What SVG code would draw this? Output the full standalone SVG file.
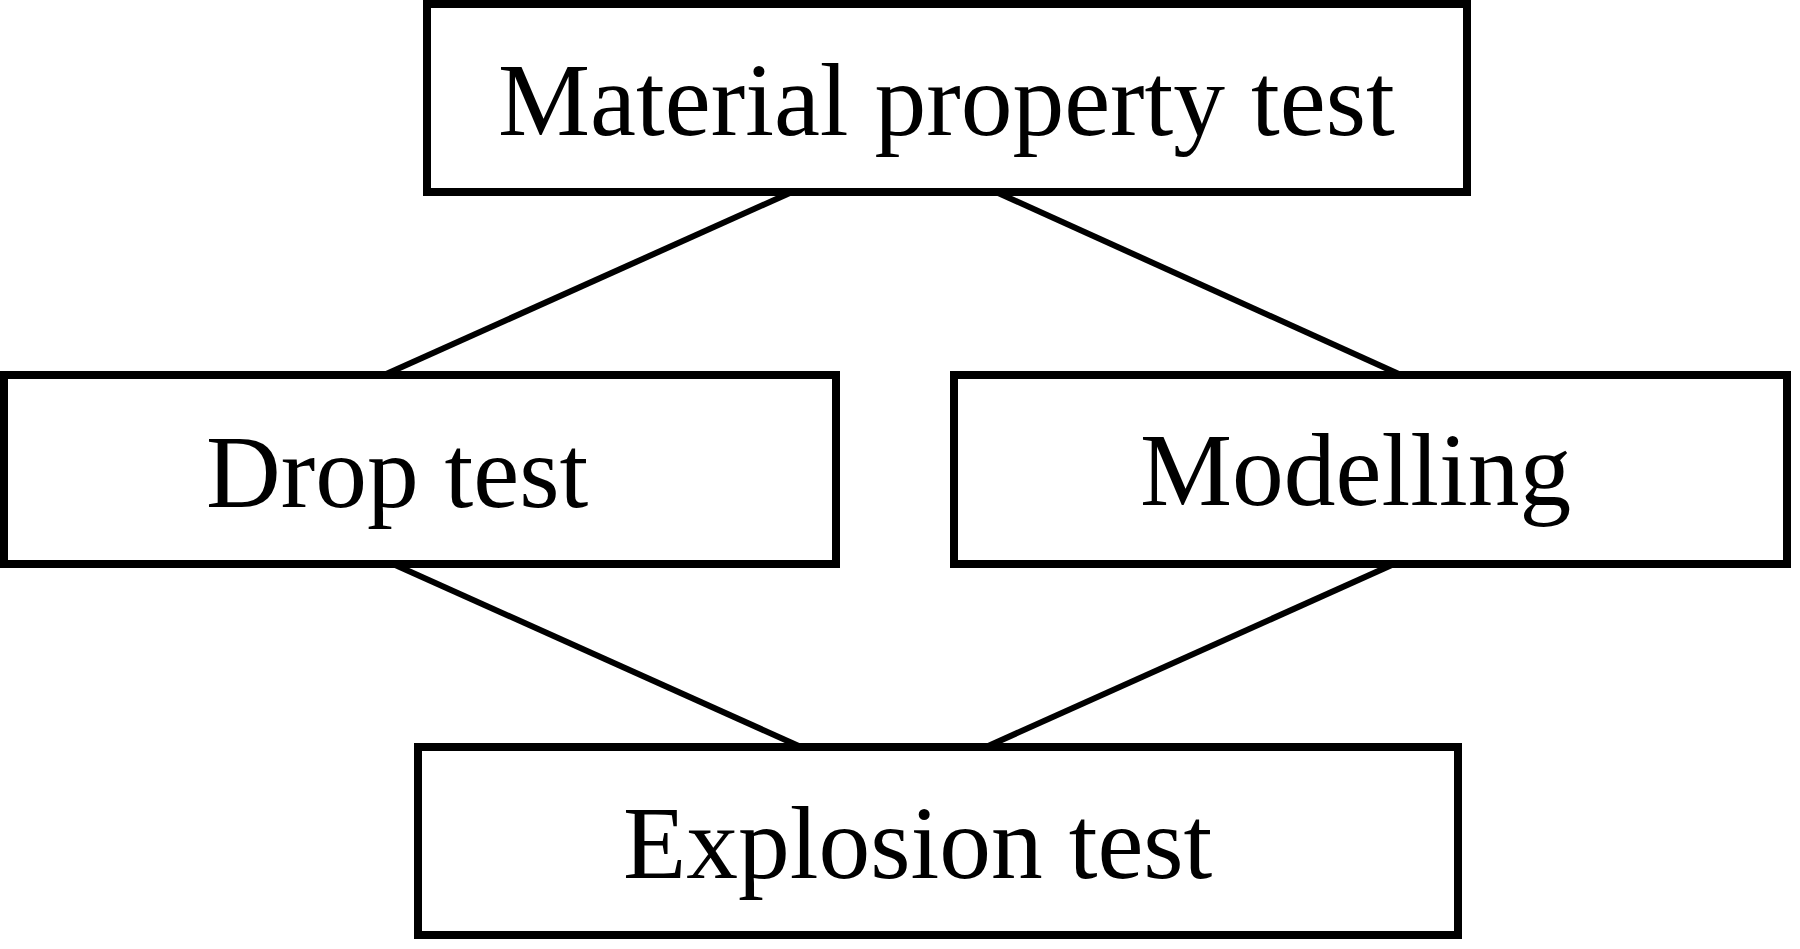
<svg xmlns="http://www.w3.org/2000/svg" width="1800" height="949" viewBox="0 0 1800 949">
<style>
.box{fill:#fff;stroke:#000;stroke-width:8}
.lbl{font-family:"Liberation Serif","Times New Roman",serif;font-size:103.5px;fill:#000}
.conn line{stroke:#000;stroke-width:6}
</style>
<rect width="1800" height="949" fill="#fff"/>
<g id="connectors" class="conn">
<line x1="792" y1="192" x2="384" y2="375"/>
<line x1="996" y1="192" x2="1401" y2="375"/>
<line x1="393" y1="564" x2="801" y2="747"/>
<line x1="1394" y1="564" x2="986" y2="747"/>
</g>
<g id="material">
<rect class="box" x="427" y="4" width="1040" height="188"/>
<text class="lbl" x="498" y="135">Material property test</text>
</g>
<g id="drop">
<rect class="box" x="4" y="375" width="832" height="189"/>
<text class="lbl" x="206" y="507">Drop test</text>
</g>
<g id="modelling">
<rect class="box" x="954" y="375" width="833" height="189"/>
<text class="lbl" x="1140" y="505">Modelling</text>
</g>
<g id="explosion">
<rect class="box" x="418" y="747" width="1040" height="188"/>
<text class="lbl" x="623" y="878">Explosion test</text>
</g>
</svg>
